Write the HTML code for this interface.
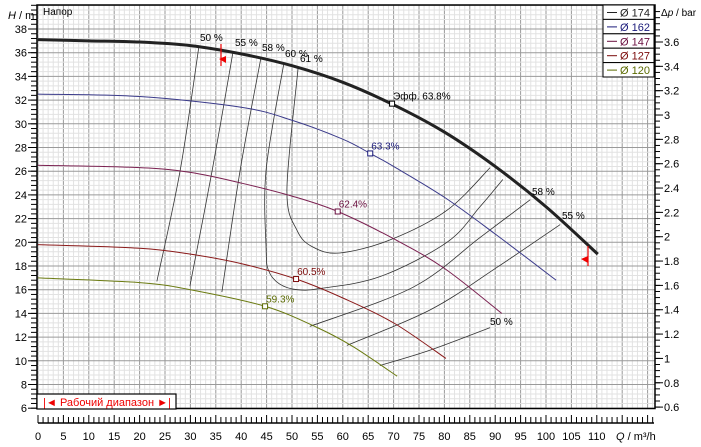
<!DOCTYPE html>
<html><head><meta charset="utf-8"><style>
body{margin:0;background:#fff}
svg{display:block;font-family:"Liberation Sans","Noto Sans CJK SC",sans-serif}
</style></head><body>
<svg id="c" width="701" height="447" viewBox="0 0 701 447"></svg>
<script>
const qTicks=[0,5,10,15,20,25,30,35,40,45,50,55,60,65,70,75,80,85,90,95,100,105,110];
const hTicks=[6,8,10,12,14,16,18,20,22,24,26,28,30,32,34,36,38];
const pTicks=[0.6,0.8,1,1.2,1.4,1.6,1.8,2,2.2,2.4,2.6,2.8,3,3.2,3.4,3.6];
const d174=[[0,37.1],[10,37.0],[20,36.9],[30,36.6],[40,35.9],[50,34.9],[60,33.5],[70,31.6],[80,29.3],[90,26.4],[100,23.0],[110.2,19.0]];
const d162=[[0,32.5],[20,32.3],[40,31.4],[50,30.3],[60,28.7],[65.4,27.5],[70,26.4],[80,23.8],[90,20.7],[102,16.8]];
const d147=[[0,26.5],[20,26.3],[30,25.9],[40,25.0],[50,23.9],[59,22.6],[70,20.3],[80,17.8],[91.3,14.0]];
const d127=[[0,19.8],[20,19.5],[30,19.0],[40,18.2],[50.8,16.9],[60,15.3],[70,13.2],[80.3,10.2]];
const d120=[[0,17.0],[20,16.6],[30,16.0],[44.7,14.6],[55,12.8],[62,11.2],[70.7,8.7]];
const e50a=[[31.7,36.6],[28,26.1],[23.4,16.7]];
const e55a=[[38.4,36.1],[34.3,26.1],[29.9,16.3]];
const e58a=[[43.9,35.6],[39.8,26.1],[36.2,15.8]];
const e60=[[48.4,35.1],[44.9,26.1],[44.9,19.5],[45.4,17.6],[47.5,16.5],[51,16.0],[55.5,16.1],[67.3,17.1],[80.5,20.0],[87,23.0],[91.5,25.3]];
const e61=[[51.2,34.7],[49,24.4],[51,21],[54.1,19.6],[59.4,19.1],[69.3,20.2],[80.5,22.7],[89,26.3]];
const e58b=[[53.5,12.9],[73.8,16.2],[87,20.4],[96.9,23.6]];
const e55b=[[60.8,11.3],[77.2,14.3],[90.4,17.9],[102.8,21.5]];
const e50b=[[67.3,9.6],[77.2,10.9],[89,12.8]];
const bepPts=[[69.7,31.7,"Эфф. 63.8%","#000"],[65.4,27.5,"63.3%","#1a1a7a"],[59,22.6,"62.4%","#6a1040"],[50.8,16.9,"60.5%","#7a0a0a"],[44.7,14.6,"59.3%","#5a6a00"]];
const legendItems=[["Ø 174","#222"],["Ø 162","#1a1a7a"],["Ø 147","#6a1040"],["Ø 127","#7a0a0a"],["Ø 120","#5a6a00"]];

const X0=38,XS=5.08,YB=29,YS=11.85;
const sx=q=>X0+q*XS, sy=h=>YB+(38-h)*YS, sp=p=>42+(3.6-p)*121.7;
const L=37,R=655,T=5,B=408.5;
const svg=document.getElementById('c');const NS='http://www.w3.org/2000/svg';
function mk(t,a,p){const e=document.createElementNS(NS,t);for(const k in a)e.setAttribute(k,a[k]);(p||svg).appendChild(e);return e;}
// grid minor
for(let q=0;q<=121;q++){const x=sx(q);if(x>R)break;const l=mk('line',{x1:x,x2:x,y1:T,y2:B,stroke:q%5?'#e2e2e2':'#9a9a9a','stroke-width':1});
}
for(let i=0;;i++){const h=5.2+i*0.4;const y=sy(h);if(y<T)break;if(y>B)continue;const maj=Math.abs(h/2-Math.round(h/2))<0.01;
const l=mk('line',{x1:L,x2:R,y1:y,y2:y,stroke:maj?'#9a9a9a':'#e2e2e2','stroke-width':1});
}
const fr=mk('rect',{x:L,y:T,width:R-L,height:B-T,fill:'none',stroke:'#000','stroke-width':1.5});

// left axis
for(let i=0;;i++){const h=5.2+i*0.4;const y=sy(h);if(y<T)break;if(y>B)continue;mk('line',{x1:31,x2:37,y1:y,y2:y,stroke:'#000'});}
hTicks.forEach(h=>{mk('line',{x1:28,x2:37,y1:sy(h),y2:sy(h),stroke:'#000'});const t=mk('text',{x:27,y:sy(h)+4,'font-size':11,'text-anchor':'end'});t.textContent=h;
});
// right axis
for(let p=0.55;p<=3.86;p+=0.05){const y=sp(p);if(y<T||y>B)continue;mk('line',{x1:655,x2:660,y1:y,y2:y,stroke:'#000'});}
pTicks.forEach(p=>{mk('line',{x1:655,x2:663,y1:sp(p),y2:sp(p),stroke:'#000'});const t=mk('text',{x:664,y:sp(p)+4,'font-size':11});t.textContent=p.toFixed(1).replace('1.0','1').replace('2.0','2').replace('3.0','3');
});
// bottom axis
mk('line',{x1:38,x2:654,y1:423,y2:423,stroke:'#000','stroke-width':1.5});
for(let q=0;q<=121;q++){const x=sx(q);if(x>654)break;mk('line',{x1:x,x2:x,y1:q%5?417:415,y2:423,stroke:'#000'});}
qTicks.forEach(q=>{const t=mk('text',{x:sx(q),y:440,'font-size':11,'text-anchor':'middle'});t.textContent=q;
});
let t=mk('text',{x:616,y:440,'font-size':11});t.innerHTML='<tspan font-style="italic">Q</tspan> / m³/h';
t=mk('text',{x:8,y:19,'font-size':11});t.innerHTML='<tspan font-style="italic">H</tspan> / m';
t=mk('text',{x:661,y:16,'font-size':10});t.innerHTML='Δ<tspan font-style="italic">p</tspan> / bar';
t=mk('text',{x:43,y:15,'font-size':10});t.textContent='Напор';
// curves
const pth=a=>a.map((p,i)=>(i?'L':'M')+sx(p[0]).toFixed(1)+','+sy(p[1]).toFixed(1)).join(' ');
function smooth(a){let s='M'+sx(a[0][0])+','+sy(a[0][1]);for(let i=0;i<a.length-1;i++){const p0=a[Math.max(0,i-1)],p1=a[i],p2=a[i+1],p3=a[Math.min(a.length-1,i+2)];
const c1x=sx(p1[0])+(sx(p2[0])-sx(p0[0]))/6,c1y=sy(p1[1])+(sy(p2[1])-sy(p0[1]))/6,c2x=sx(p2[0])-(sx(p3[0])-sx(p1[0]))/6,c2y=sy(p2[1])-(sy(p3[1])-sy(p1[1]))/6;
s+=` C${c1x},${c1y} ${c2x},${c2y} ${sx(p2[0])},${sy(p2[1])}`;}return s;}
[[e50a,'eff-50-left'],[e55a,'eff-55-left'],[e58a,'eff-58-left'],[e60,'eff-60'],[e61,'eff-61'],[e58b,'eff-58-right'],[e55b,'eff-55-right'],[e50b,'eff-50-right']].forEach(([a,n])=>{
const e=mk('path',{d:smooth(a),fill:'none',stroke:'#333','stroke-width':0.8});});
[[d162,'#3a3a8a','curve-162'],[d147,'#7a2050','curve-147'],[d127,'#8a1a1a','curve-127'],[d120,'#6a7a10','curve-120']].forEach(([a,c,n])=>{
const e=mk('path',{d:smooth(a),fill:'none',stroke:c,'stroke-width':1});});
let e=mk('path',{d:smooth(d174),fill:'none',stroke:'#222','stroke-width':3});
// eff labels
[[200,41,'50 %'],[235,46,'55 %'],[262,51,'58 %'],[285,57,'60 %'],[300,62,'61 %'],[532,195,'58 %'],[562,219,'55 %'],[490,325,'50 %']].forEach(([x,y,s])=>{
const t=mk('text',{x:x,y:y,'font-size':10});t.textContent=s;});
bepPts.forEach(([q,h,s,c])=>{const r=mk('rect',{x:sx(q)-2.5,y:sy(h)-2.5,width:5,height:5,fill:'#fff',stroke:c,'stroke-width':1});

const t=mk('text',{x:sx(q)+1,y:sy(h)-4,'font-size':10,fill:c});t.textContent=s;});
// red range markers
mk('line',{x1:221,x2:221,y1:44,y2:66,stroke:'#e00','stroke-width':1.2});mk('polygon',{points:'219,59 226,56 226,63',fill:'#e00'});
mk('line',{x1:588,x2:588,y1:246,y2:266,stroke:'#e00','stroke-width':1.2});mk('polygon',{points:'581,259 588,256 588,263',fill:'#e00'});
// legend
const lg=mk('g',{});
legendItems.forEach(([s,c],i)=>{const y=5+i*14.4;mk('rect',{x:603,y:y,width:51,height:14.4,fill:'#fff',stroke:'#000','stroke-width':1},lg);
mk('line',{x1:607,x2:617,y1:y+7.5,y2:y+7.5,stroke:c,'stroke-width':1},lg);
const t=mk('text',{x:620,y:y+11.5,'font-size':11,fill:c},lg);t.textContent=s;});
// working range
const wr=mk('g',{});
mk('rect',{x:37,y:394,width:139,height:15,fill:'#fff',stroke:'#000','stroke-width':1.2},wr);
t=mk('text',{x:107,y:406,'font-size':11,fill:'#e00','text-anchor':'middle'},wr);t.textContent='|◄ Рабочий диапазон ►|';
</script>
</body></html>
